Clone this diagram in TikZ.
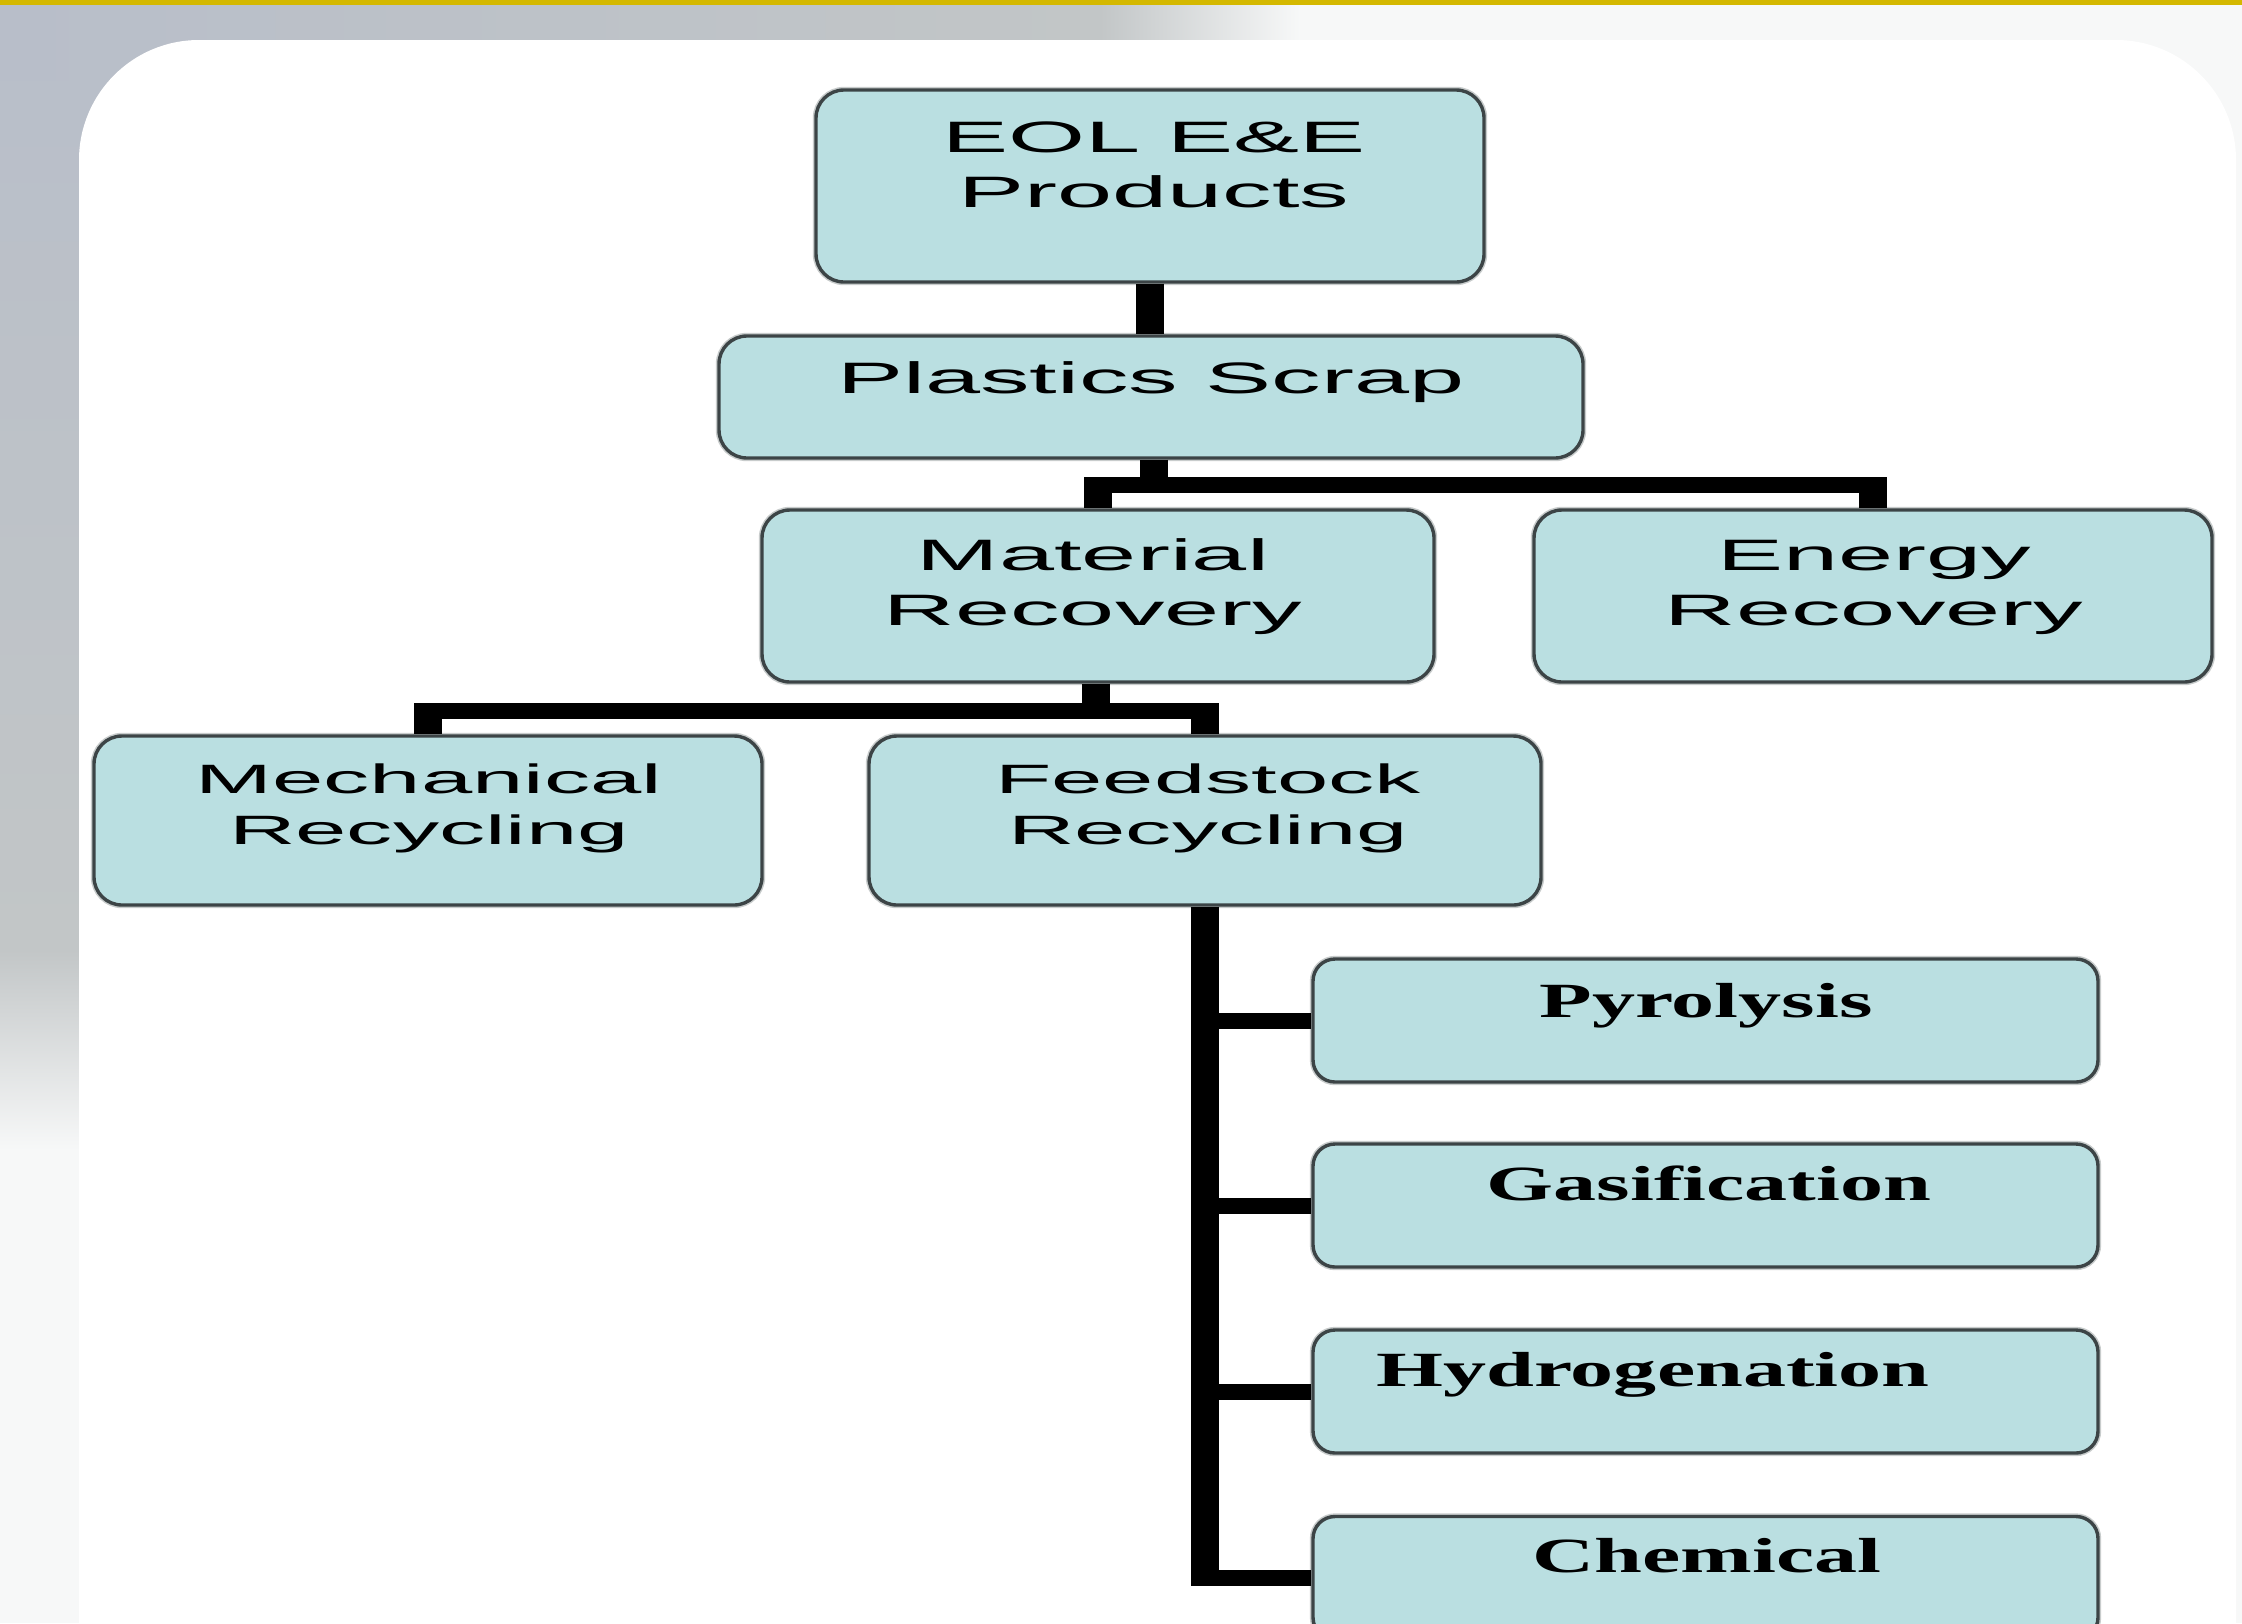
\documentclass[tikz,border=0pt]{standalone}
\usepackage{fontspec}
\usepackage{graphicx}
\newfontfamily\boxsans{Liberation Sans}
\newfontfamily\boxserif{Liberation Serif}
\definecolor{boxfill}{HTML}{BADFE1}
\definecolor{boxline}{HTML}{3C4446}
\definecolor{boxhalo}{HTML}{C8CCCC}
\definecolor{goldbar}{HTML}{D4B800}
\definecolor{grayA}{HTML}{B8BEC9}
\definecolor{grayB}{HTML}{C2C6C7}
\definecolor{paleBG}{HTML}{F7F8F8}
\newcommand\wsans[1]{\scalebox{2.25}[1]{#1}}
\newcommand\wserif[1]{\scalebox{1.75}[1]{#1}}
\begin{document}
\begin{tikzpicture}[x=0.5pt,y=-0.5pt,
  box/.style={draw=boxline, fill=boxfill, line width=1.7pt, inner sep=0pt,
    preaction={draw=boxhalo, line width=3.2pt}},
  topbox/.style={box, rounded corners=14pt},
  subbox/.style={box, rounded corners=11pt, minimum width=392.5pt, minimum height=61.5pt},
  sanslbl/.style={font=\boxsans\fontsize{22}{27.5}\selectfont, align=center, inner sep=0pt, text=black},
  smallsans/.style={font=\boxsans\fontsize{20.5}{25.5}\selectfont, align=center, inner sep=0pt, text=black},
  seriflbl/.style={font=\boxserif\bfseries\fontsize{24.6}{28}\selectfont, inner sep=0pt, anchor=base, text=black},
  vline/.style={draw=black, line width=14pt, line cap=butt},
  hline/.style={draw=black, line width=8pt, line cap=butt}]
\useasboundingbox (0,0) rectangle (2242,1623);
\clip (0,0) rectangle (2242,1623);
% background
\fill[paleBG] (0,0) rectangle (2242,1623);
\shade[top color=grayA, bottom color=grayB] (0,5) rectangle (200,950);
\shade[top color=grayB, bottom color=paleBG] (0,950) rectangle (200,1150);
\shade[left color=grayA, right color=grayB] (0,5) rectangle (1100,80);
\shade[left color=grayB, right color=paleBG] (1100,5) rectangle (1300,80);
\fill[goldbar] (0,0) rectangle (2242,5);
\fill[white, rounded corners=60pt] (79,40) rectangle (2236,1900);

% boxes
\node[topbox, minimum width=334pt, minimum height=96pt] (eol) at (1150,186) {};
\node[topbox, minimum width=432pt, minimum height=61pt] (plas) at (1151,397) {};
\node[topbox, minimum width=336pt, minimum height=86pt] (mat) at (1098,596) {};
\node[topbox, minimum width=339pt, minimum height=86pt] (ener) at (1873,596) {};
\node[topbox, minimum width=334pt, minimum height=84.5pt] (mech) at (428,820.5) {};
\node[topbox, minimum width=336pt, minimum height=84.5pt] (feed) at (1205,820.5) {};
\node[subbox] (pyro) at (1705.5,1020.5) {};
\node[subbox] (gas) at (1705.5,1205.5) {};
\node[subbox] (hyd) at (1705.5,1391.5) {};
\node[subbox] (chem) at (1705.5,1578) {};

% labels
\node[sanslbl] (eolT) at (1154,165) {\wsans{EOL E\&E}\\\wsans{Products}};
\node[sanslbl, anchor=base] (plasT) at (1151,393) {\wsans{Plastics Scrap}};
\node[sanslbl] (matT) at (1093,587) {\wsans{Material}\\\wsans{Recovery}};
\node[sanslbl] (enerT) at (1874,587) {\wsans{Energy}\\\wsans{Recovery}};
\node[smallsans] (mechT) at (429,808) {\wsans{Mechanical}\\\wsans{Recycling}};
\node[smallsans] (feedT) at (1208,808) {\wsans{Feedstock}\\\wsans{Recycling}};
\node[seriflbl] (pyroT) at (1706,1017) {\wserif{Pyrolysis}};
\node[seriflbl] (gasT) at (1709,1200) {\wserif{Gasification}};
\node[seriflbl] (hydT) at (1653,1386) {\wserif{Hydrogenation}};
\node[seriflbl] (chemT) at (1707,1572) {\wserif{Chemical}};

% connectors
\coordinate (b1) at (1154,485);
\coordinate (b2) at (1096,711);
\coordinate (t1) at (1154,477);
\coordinate (t2) at (1096,703);
% EOL -> Plastics
\draw[vline] (eol.south) -- (eol.south |- plas.north);
% Plastics -> Material / Energy
\draw[vline] (plas.south -| b1) -- ([yshift=-4pt]b1);
\draw[hline, shorten <=-7pt, shorten >=-7pt] (mat.north |- b1) -- (ener.north |- b1);
\draw[vline] (mat.north |- t1) -- (mat.north);
\draw[vline] (ener.north |- t1) -- (ener.north);
% Material -> Mechanical / Feedstock
\draw[vline] (mat.south -| b2) -- ([yshift=-4pt]b2);
\draw[hline, shorten <=-7pt, shorten >=-7pt] (mech.north |- b2) -- (feed.north |- b2);
\draw[vline] (mech.north |- t2) -- (mech.north);
\draw[vline] (feed.north |- t2) -- (feed.north);
% Feedstock trunk and branches
\draw[vline] (feed.south) -- ([yshift=-4pt]feed.south |- chem.west);
\draw[hline, shorten <=-7pt] (feed.south |- pyro.west) -- (pyro.west);
\draw[hline, shorten <=-7pt] (feed.south |- gas.west) -- (gas.west);
\draw[hline, shorten <=-7pt] (feed.south |- hyd.west) -- (hyd.west);
\draw[hline, shorten <=-7pt] (feed.south |- chem.west) -- (chem.west);
\end{tikzpicture}
\end{document}
